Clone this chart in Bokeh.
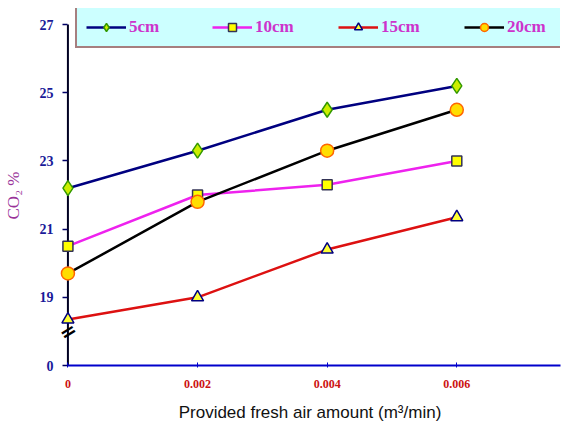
from bokeh.plotting import figure
from bokeh.models import Legend, LegendItem, Label
from bokeh.embed import file_html
from bokeh.resources import INLINE

# data
air_amount = [0, 0.002, 0.004, 0.006]
co2_5cm = [22.2, 23.3, 24.5, 25.2]
co2_10cm = [20.5, 22.0, 22.3, 23.0]
co2_15cm = [18.35, 19.0, 20.4, 21.35]
co2_20cm = [19.7, 21.8, 23.3, 24.5]
x_ticks = [0, 0.002, 0.004, 0.006]
x_tick_labels = ["0", "0.002", "0.004", "0.006"]
y_ticks = [17, 19, 21, 23, 25, 27]
y_tick_labels = ["0", "19", "21", "23", "25", "27"]
series_names = ["5cm", "10cm", "15cm", "20cm"]

p = figure(width=577, height=429, output_backend="svg", toolbar_location=None,
           x_range=(-0.00013, 0.0076), y_range=(17, 27.47),
           min_border_left=59, min_border_right=17, min_border_top=8, min_border_bottom=64)
p.outline_line_color = None
p.xgrid.visible = False
p.ygrid.visible = False

# y axis line at x = 0, spanning the tick range
p.segment(x0=[0], y0=[min(y_ticks)], x1=[0], y1=[max(y_ticks)], line_color="#000022", line_width=2)

series = [
    (co2_5cm, "#000080", "diamond", 15, "#ccee00", "#339900"),
    (co2_10cm, "#ee22ee", "square", 10, "#ffff00", "#333355"),
    (co2_15cm, "#dd1111", "triangle", 12, "#ffff33", "#000080"),
    (co2_20cm, "#000000", "circle", 13, "#ffdd00", "#ff6600"),
]
items = []
for name, (vals, lc, mk, sz, fc, oc) in zip(series_names, series):
    ln = p.line(air_amount, vals, line_color=lc, line_width=2.5)
    sc = p.scatter(air_amount, vals, marker=mk, size=sz, fill_color=fc,
                   line_color=oc, line_width=1.5)
    items.append(LegendItem(label=name, renderers=[ln, sc]))

legend = Legend(items=items, orientation="horizontal", location=(16, 317),
                glyph_width=40, label_width=45, spacing=38, padding=9,
                label_standoff=3,
                label_text_font="Liberation Serif", label_text_font_style="bold",
                label_text_font_size="17px", label_text_color="#cc33cc",
                background_fill_color="#ccffff", background_fill_alpha=1.0,
                border_line_color="#800000", border_line_width=2.5)
p.add_layout(legend, "center")

# x axis
xa = p.xaxis[0]
xa.ticker = x_ticks
xa.major_label_overrides = {t: l for t, l in zip(x_ticks, x_tick_labels)}
xa.bounds = (0, 0.0076)
xa.axis_line_color = "#0000cc"
xa.axis_line_width = 2
xa.major_tick_line_color = "#0000cc"
xa.major_tick_in = 3
xa.major_tick_out = 2
xa.minor_tick_line_color = None
xa.major_label_text_font = "Liberation Serif"
xa.major_label_text_font_style = "bold"
xa.major_label_text_font_size = "12px"
xa.major_label_text_color = "#cc1111"
xa.major_label_standoff = 12
xa.axis_label = "Provided fresh air amount (m\u00b3/min)"
xa.axis_label_text_font = "Liberation Sans"
xa.axis_label_text_font_style = "normal"
xa.axis_label_text_font_size = "17px"
xa.axis_label_text_color = "#111111"
xa.axis_label_standoff = 12

# y axis (labels and ticks; its line is the segment at x = 0)
ya = p.yaxis[0]
ya.ticker = y_ticks
ya.bounds = (min(y_ticks), max(y_ticks))
ya.major_label_overrides = {t: l for t, l in zip(y_ticks, y_tick_labels)}
ya.axis_line_color = None
ya.major_tick_line_color = "#000066"
ya.major_tick_line_width = 1.5
ya.major_tick_in = 8
ya.major_tick_out = -3
ya.minor_tick_line_color = None
ya.minor_tick_in = 0
ya.minor_tick_out = 0
ya.major_label_text_font = "Liberation Serif"
ya.major_label_text_font_style = "bold"
ya.major_label_text_font_size = "14px"
ya.major_label_text_color = "#1a1a99"
ya.major_label_standoff = 6
ya.axis_label = "CO\u2082  %\u00a0\u00a0\u00a0"
ya.axis_label_text_font = "Liberation Serif"
ya.axis_label_text_font_style = "normal"
ya.axis_label_text_font_size = "17px"
ya.axis_label_text_color = "#993399"
ya.axis_label_standoff = 14

# axis break mark
brk = Label(x=0, y=18, text="=", angle=0.55, text_align="center", text_baseline="middle",
            text_font="DejaVu Sans", text_font_style="bold", text_font_size="20px",
            text_color="#000000")
p.add_layout(brk)

open("out.html", "w").write(file_html(p, INLINE))
